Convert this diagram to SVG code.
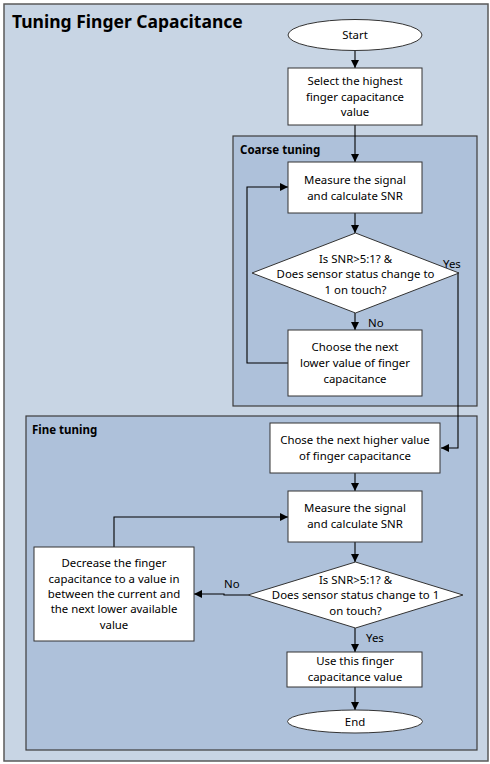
<svg xmlns="http://www.w3.org/2000/svg" width="490" height="764" viewBox="0 0 490 764">
<defs>
<style>
.frame{fill:#c8d5e4;stroke:#5a5a5a;stroke-width:1.5}
.panel{fill:#aec1da;stroke:#3c3c3c;stroke-width:1.2}
.node{fill:#ffffff;stroke:#333333;stroke-width:1}
.t{font-family:"Noto Sans","Open Sans",sans-serif;font-size:11.4px;fill:#000;text-anchor:middle}
.title{font-family:"Noto Sans","Open Sans",sans-serif;font-size:17.5px;font-weight:bold;fill:#000}
.ptitle{font-family:"Noto Sans","Open Sans",sans-serif;font-size:11.5px;font-weight:bold;fill:#000}
.lbl{font-family:"Noto Sans","Open Sans",sans-serif;font-size:11.4px;fill:#000}
.c{fill:none;stroke:#000;stroke-width:1.1}
</style>
<marker id="arr" viewBox="0 0 10 10" refX="10" refY="5" markerWidth="8" markerHeight="8" markerUnits="userSpaceOnUse" orient="auto">
<path d="M0,0 L10,5 L0,10 z" fill="#000"/>
</marker>
</defs>

<rect class="frame" x="4" y="4" width="484" height="757"/>
<text class="title" x="12" y="28">Tuning Finger Capacitance</text>

<g id="coarse-panel">
<rect class="panel" x="233" y="136" width="244" height="270"/>
<text class="ptitle" x="240" y="154">Coarse tuning</text>
</g>
<g id="fine-panel">
<rect class="panel" x="26" y="416" width="451" height="334"/>
<text class="ptitle" x="32" y="434">Fine tuning</text>
</g>

<g id="connectors">
<path class="c" d="M355,51 V68" marker-end="url(#arr)"/>
<path class="c" d="M355,125 V162" marker-end="url(#arr)"/>
<path class="c" d="M355,213 V233" marker-end="url(#arr)"/>
<path class="c" d="M355,313 V330" marker-end="url(#arr)"/>
<path class="c" d="M288,363 H247 V187 H288" marker-end="url(#arr)"/>
<path class="c" d="M459,273 H458 V448 H441" marker-end="url(#arr)"/>
<path class="c" d="M355,473 V491" marker-end="url(#arr)"/>
<path class="c" d="M355,542 V562" marker-end="url(#arr)"/>
<path class="c" d="M248,595 H224 V594 H194" marker-end="url(#arr)"/>
<path class="c" d="M114,547 V517 H288" marker-end="url(#arr)"/>
<path class="c" d="M355,628 V652" marker-end="url(#arr)"/>
<path class="c" d="M355,687 V710" marker-end="url(#arr)"/>
<text class="lbl" x="443" y="268">Yes</text>
<text class="lbl" x="368" y="327">No</text>
<text class="lbl" x="224" y="588">No</text>
<text class="lbl" x="366" y="642">Yes</text>
</g>

<g id="start">
<ellipse class="node" cx="355" cy="35" rx="67" ry="15.5"/>
<text class="t" x="355" y="39">Start</text>
</g>

<g id="select">
<rect class="node" x="288" y="68" width="134" height="57"/>
<text class="t" x="355" y="85">Select the highest</text>
<text class="t" x="355" y="101">finger capacitance</text>
<text class="t" x="355" y="116">value</text>
</g>

<g id="measure1">
<rect class="node" x="288" y="162" width="134" height="51"/>
<text class="t" x="355" y="184">Measure the signal</text>
<text class="t" x="355" y="200">and calculate SNR</text>
</g>

<g id="decision1">
<polygon class="node" points="355.5,233 459,273 355.5,313 252,273"/>
<text class="t" x="355.5" y="263">Is SNR&gt;5:1? &amp;</text>
<text class="t" x="355.5" y="278">Does sensor status change to</text>
<text class="t" x="355.5" y="294">1 on touch?</text>
</g>

<g id="choose">
<rect class="node" x="288" y="330" width="134" height="66"/>
<text class="t" x="355" y="351">Choose the next</text>
<text class="t" x="355" y="367">lower value of finger</text>
<text class="t" x="355" y="383">capacitance</text>
</g>

<g id="chose-higher">
<rect class="node" x="270" y="423" width="170" height="50"/>
<text class="t" x="355" y="444">Chose the next higher value</text>
<text class="t" x="355" y="460">of finger capacitance</text>
</g>

<g id="measure2">
<rect class="node" x="288" y="491" width="134" height="51"/>
<text class="t" x="355" y="512">Measure the signal</text>
<text class="t" x="355" y="528">and calculate SNR</text>
</g>

<g id="decision2">
<polygon class="node" points="355.5,562 463,595 355.5,628 248,595"/>
<text class="t" x="355.5" y="584">Is SNR&gt;5:1? &amp;</text>
<text class="t" x="355.5" y="599">Does sensor status change to 1</text>
<text class="t" x="355.5" y="615">on touch?</text>
</g>

<g id="decrease">
<rect class="node" x="34" y="547" width="160" height="94"/>
<text class="t" x="114" y="567">Decrease the finger</text>
<text class="t" x="114" y="583">capacitance to a value in</text>
<text class="t" x="114" y="598">between the current and</text>
<text class="t" x="114" y="613">the next lower available</text>
<text class="t" x="114" y="629">value</text>
</g>

<g id="use">
<rect class="node" x="287" y="652" width="135" height="35"/>
<text class="t" x="355" y="665">Use this finger</text>
<text class="t" x="355" y="681">capacitance value</text>
</g>

<g id="end">
<ellipse class="node" cx="355" cy="721.5" rx="67.5" ry="11.5"/>
<text class="t" x="355" y="725.5">End</text>
</g>
</svg>
